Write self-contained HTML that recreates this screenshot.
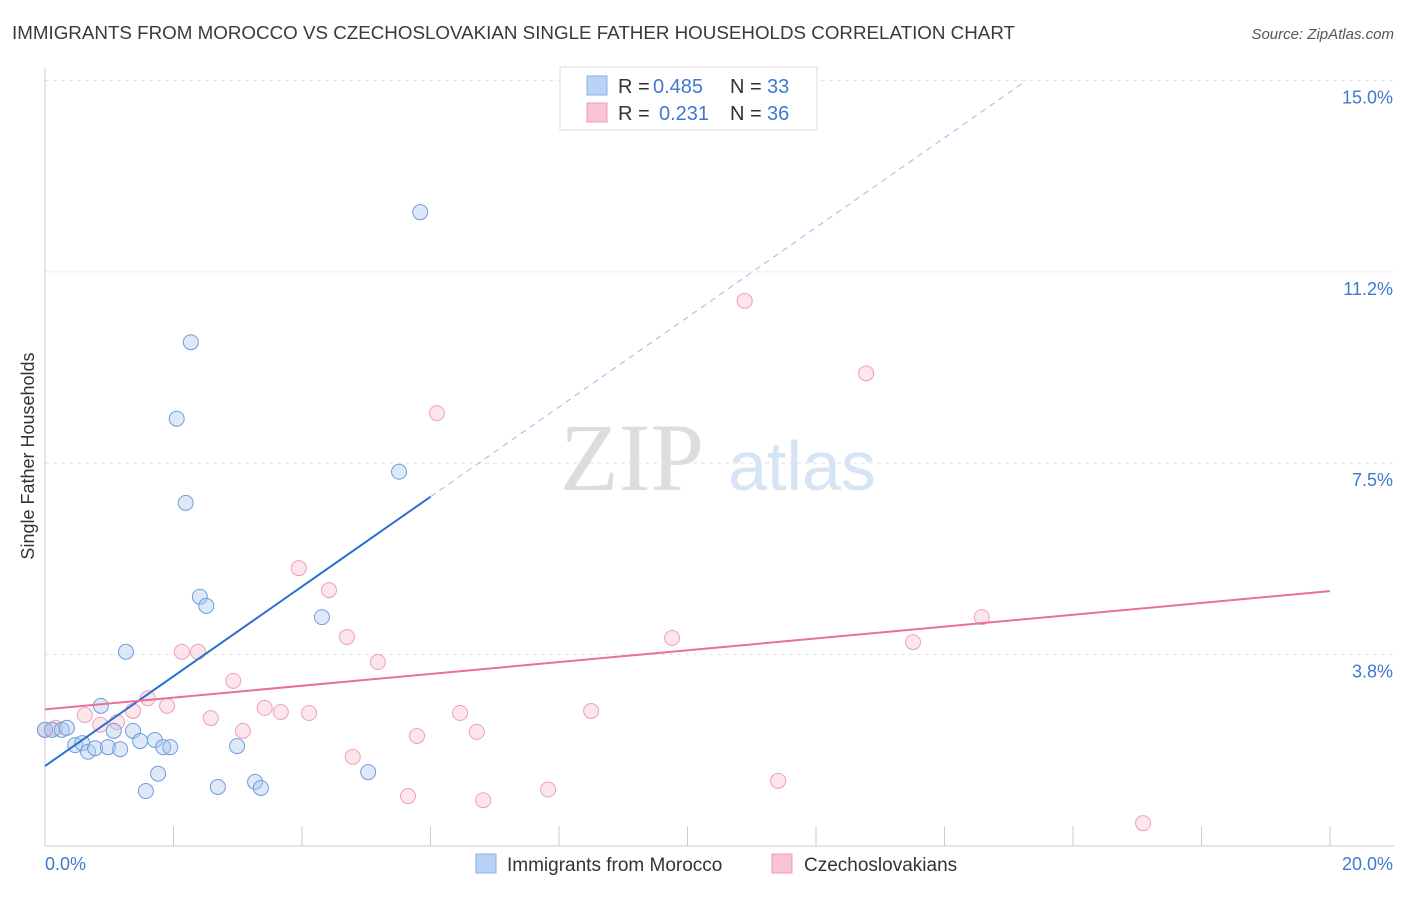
<!DOCTYPE html>
<html><head><meta charset="utf-8"><style>
body{margin:0;background:#fff;font-family:"Liberation Sans",sans-serif}
</style></head><body>
<svg id="chart" width="1406" height="892" xmlns="http://www.w3.org/2000/svg" font-family="Liberation Sans, sans-serif">
<text x="12" y="39" font-size="18" fill="#3a3a3a" textLength="1003" lengthAdjust="spacingAndGlyphs">IMMIGRANTS FROM MOROCCO VS CZECHOSLOVAKIAN SINGLE FATHER HOUSEHOLDS CORRELATION CHART</text>
<text x="1394" y="39" font-size="15" fill="#555" text-anchor="end" font-style="italic">Source: ZipAtlas.com</text>
<g><text x="632" y="490" font-size="96" fill="#ddd" font-family="Liberation Serif, serif" text-anchor="middle">ZIP</text><text x="802" y="490" font-size="70" fill="#d6e4f5" text-anchor="middle">atlas</text></g>
<g id="grid"></g><g id="axes"></g><g id="marks"></g>
<text transform="translate(34,456) rotate(-90)" font-size="18" fill="#333" text-anchor="middle">Single Father Households</text>
<g>
<rect x="560" y="67" width="257" height="63" fill="#fff" stroke="#ddd"/>
<rect x="587" y="76" width="20" height="19" fill="#b8d3f5" stroke="#8ab2e6"/>
<rect x="587" y="103" width="20" height="19" fill="#f9c4d3" stroke="#f09ab3"/>
<text x="618" y="93" font-size="20" fill="#333">R =</text>
<text x="653" y="93" font-size="20" fill="#3f78d1">0.485</text>
<text x="730" y="93" font-size="20" fill="#333">N =</text>
<text x="767" y="93" font-size="20" fill="#3f78d1">33</text>
<text x="618" y="120" font-size="20" fill="#333">R =</text>
<text x="659" y="120" font-size="20" fill="#3f78d1">0.231</text>
<text x="730" y="120" font-size="20" fill="#333">N =</text>
<text x="767" y="120" font-size="20" fill="#3f78d1">36</text>
</g>
<g>
<rect x="476" y="854" width="20" height="19" fill="#b8d3f5" stroke="#8ab2e6"/>
<text x="507" y="871" font-size="19" fill="#333">Immigrants from Morocco</text>
<rect x="772" y="854" width="20" height="19" fill="#f9c4d3" stroke="#f09ab3"/>
<text x="804" y="871" font-size="19" fill="#333">Czechoslovakians</text>
</g>
</svg>
<script>
const yTicks=[3.75,7.5,11.25,15];
const yTickLabels=["3.8%","7.5%","11.2%","15.0%"];
const blueX=[0,0.11,0.26,0.34,0.47,0.58,0.67,0.78,0.87,0.98,1.07,1.17,1.26,1.37,1.48,1.57,1.71,1.76,1.84,1.95,2.05,2.19,2.27,2.41,2.51,2.69,2.99,3.27,3.36,4.31,5.03,5.51,5.84];
const blueY=[2.27,2.27,2.27,2.31,1.97,2.01,1.84,1.91,2.74,1.93,2.25,1.89,3.8,2.25,2.05,1.07,2.07,1.41,1.93,1.93,8.37,6.72,9.87,4.88,4.7,1.15,1.95,1.25,1.13,4.48,1.44,7.33,12.42];
const pinkX=[0,0.16,0.62,0.86,1.12,1.37,1.6,1.9,2.13,2.38,2.58,2.93,3.08,3.42,3.67,3.95,4.11,4.42,4.7,4.79,5.18,5.65,5.79,6.1,6.46,6.72,6.82,7.83,8.5,9.76,10.89,11.41,12.78,13.51,14.58,17.09];
const pinkY=[2.27,2.31,2.56,2.37,2.42,2.64,2.89,2.74,3.8,3.8,2.5,3.23,2.25,2.7,2.62,5.44,2.6,5.01,4.09,1.74,3.6,0.97,2.15,8.48,2.6,2.23,0.89,1.1,2.64,4.07,10.68,1.27,9.26,3.99,4.48,0.44];
const blueTrend=[1.56,0.88];
const pinkTrend=[2.67,0.116];
const NS="http://www.w3.org/2000/svg";
const X=v=>45+v*64.25, Y=v=>845.6-v*51;
function mk(tag,attrs,parent){const e=document.createElementNS(NS,tag);for(const k in attrs)e.setAttribute(k,attrs[k]);document.getElementById(parent).appendChild(e);return e;}
yTicks.forEach((t,i)=>{
 let g=mk('line',{x1:45,x2:1394,y1:Y(t),y2:Y(t),stroke:'#e2e2e2','stroke-dasharray':'4,4'},'grid');
 
 
 let l=mk('text',{x:1393,y:Y(t)+23,'font-size':18,fill:'#3f78d1','text-anchor':'end'},'axes');l.textContent=yTickLabels[i];
 
 
});
let ax=mk('line',{x1:45,x2:45,y1:68,y2:846,stroke:'#ccc'},'axes');


let bx=mk('line',{x1:45,x2:1394,y1:846,y2:846,stroke:'#ccc'},'axes');


for(let i=0;i<=10;i++){let t=mk('line',{x1:X(i*2),x2:X(i*2),y1:826,y2:846,stroke:'#ccc'},'axes');
 
 }
let x0=mk('text',{x:45,y:870,'font-size':18,fill:'#3f78d1'},'axes');x0.textContent='0.0%';


let x1=mk('text',{x:1393,y:870,'font-size':18,fill:'#3f78d1','text-anchor':'end'},'axes');x1.textContent='20.0%';


pinkX.forEach((v,i)=>{let c=mk('circle',{cx:X(v),cy:Y(pinkY[i]),r:7.5,fill:'rgba(249,180,200,0.35)',stroke:'#eea0b8','stroke-width':1},'marks');
 
 });
blueX.forEach((v,i)=>{let c=mk('circle',{cx:X(v),cy:Y(blueY[i]),r:7.5,fill:'rgba(170,200,240,0.4)',stroke:'#6f9cd8','stroke-width':1},'marks');
 
 });
let bs=mk('line',{x1:X(0),y1:Y(blueTrend[0]),x2:X(6),y2:Y(blueTrend[0]+6*blueTrend[1]),stroke:'#2a6fd4','stroke-width':2},'marks');


const xe=(15-blueTrend[0])/blueTrend[1];
let bd=mk('line',{x1:X(6),y1:Y(blueTrend[0]+6*blueTrend[1]),x2:X(xe),y2:Y(15),stroke:'#9bbbe6','stroke-width':1,'stroke-dasharray':'6,5'},'marks');


let pl=mk('line',{x1:X(0),y1:Y(pinkTrend[0]),x2:X(20),y2:Y(pinkTrend[0]+20*pinkTrend[1]),stroke:'#e8709a','stroke-width':2},'marks');


</script>
</body></html>
